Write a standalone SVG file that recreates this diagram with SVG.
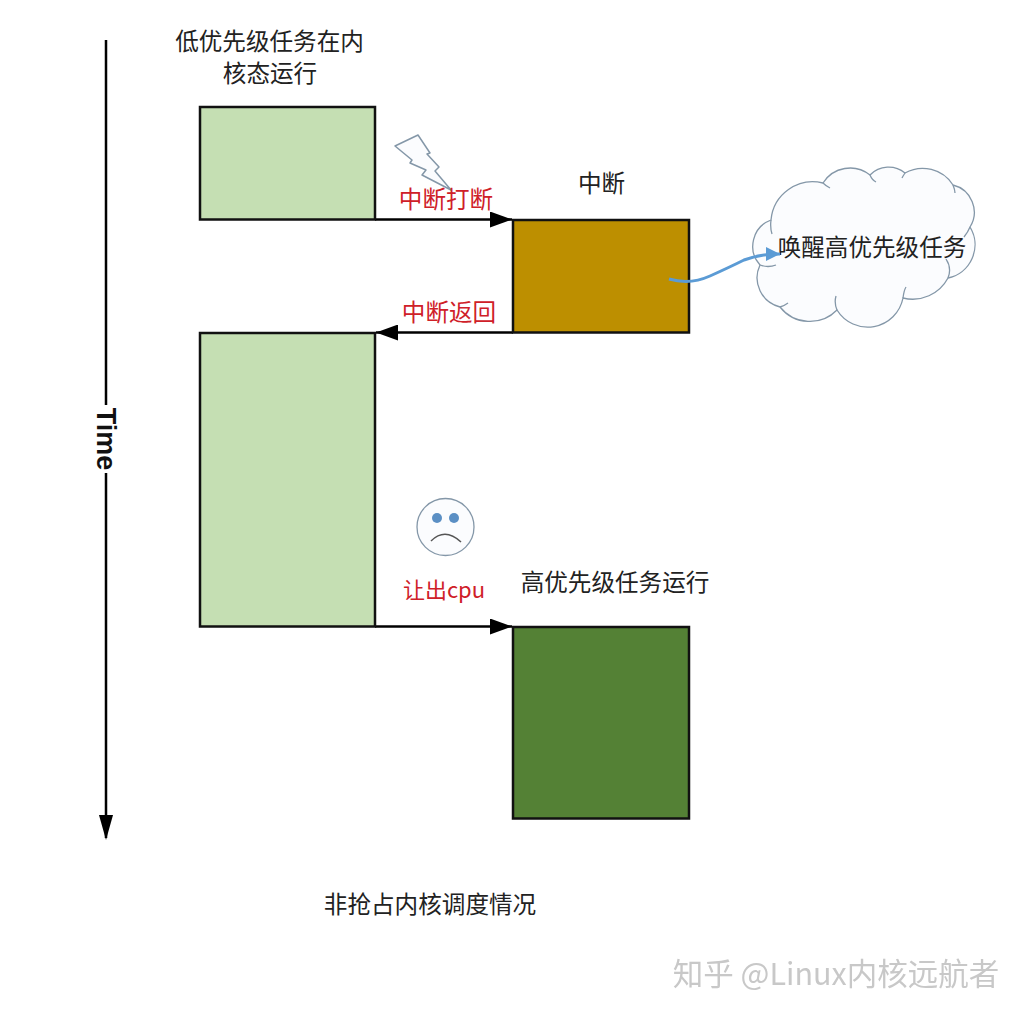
<svg xmlns="http://www.w3.org/2000/svg" width="1024" height="1015" viewBox="0 0 1024 1015">
<style>
text{font-family:"Noto Sans CJK SC","Liberation Sans",sans-serif;fill:#222;font-size:23.600px;text-anchor:middle}
.red{fill:#cf2028}
.box{stroke:#111;stroke-width:2.500}
.light{fill:#c5dfb3}
.conn{stroke:#000;stroke-width:2.500;fill:none}
.sk{fill:#fbfcfe;stroke:#8497a8;stroke-width:1.300}
.curl{fill:none;stroke:#8497a8;stroke-width:1.300}
</style>
<defs>
<marker id="ah" markerUnits="userSpaceOnUse" markerWidth="24" markerHeight="16" refX="22" refY="8" orient="auto"><path d="M0 0L22 8L0 16Z" fill="#000"/></marker>
<marker id="bh" markerUnits="userSpaceOnUse" markerWidth="16" markerHeight="16" refX="14" refY="7" orient="auto"><path d="M0 0L14 7L0 14Z" fill="#5b9bd5"/></marker>
<filter id="soft"><feGaussianBlur stdDeviation="0.600"/></filter>
</defs>
<rect width="1024" height="1015" fill="#fff"/>
<g id="connectors">
<path class="conn" d="M106 40V405M106 473V838"/>
<path d="M99 815L106 840L113 815Z" fill="#000"/>
<path class="conn" marker-end="url(#ah)" d="M375 219.500H512"/>
<path class="conn" marker-end="url(#ah)" d="M513 332.500H376"/>
<path class="conn" marker-end="url(#ah)" d="M375 626.500H512"/>
</g>
<g id="time"><text transform="translate(106 439) rotate(90)" dy="9" style="font-family:'Liberation Sans',sans-serif;font-weight:700;font-size:27px;fill:#111">Time</text></g>
<g id="task-low-1"><rect class="box light" x="200" y="107" width="175" height="112.500"/><text x="269.500" y="50">低优先级任务在内</text><text x="270" y="82">核态运行</text></g>
<g id="bolt"><path d="M395 146L418 135L430 153L427 154L439 167L435 171L451 190L422 175L426 170L410 163L412 160Z" fill="#fbfcfe" stroke="#8497a8" stroke-width="1.500" stroke-linejoin="round"/></g>
<g id="interrupt-label"><text class="red" x="446" y="208">中断打断</text></g>
<g id="interrupt"><rect class="box" fill="#bd8f00" x="513" y="220" width="176" height="112.500"/><text x="601.500" y="192">中断</text></g>
<g id="return-label"><text class="red" x="449" y="321">中断返回</text></g>
<g id="cloud">
<path class="sk" d="M760 265A28 28 0 0 1 771 220A42 42 0 0 1 823 183A32 32 0 0 1 870 175A26 26 0 0 1 905 173A36 36 0 0 1 953 185A28 28 0 0 1 970 227A34 34 0 0 1 948 278A40 40 0 0 1 903 298A36 36 0 0 1 837 310A38 38 0 0 1 780 307A30 30 0 0 1 760 265Z"/>
<path class="curl" d="M948 278Q952 268 946 259M760 265Q768 268 776 265M771 220Q770 228 772 234M823 183Q826 186 830 188M870 175Q872 180 876 182M905 173Q903 176 902 178M953 185Q955 190 955 193M970 227Q968 232 964 237M903 298Q904 290 906 287M837 310Q834 303 836 296M780 307Q784 306 788 303"/>
<text x="872" y="256">唤醒高优先级任务</text>
</g>
<path id="wake" d="M669 279Q690 285 710 276T744 260Q760 254 780 254" fill="none" stroke="#5b9bd5" stroke-width="3" marker-end="url(#bh)"/>
<g id="task-low-2"><rect class="box light" x="200" y="333" width="175" height="293.500"/></g>
<g id="sad-face">
<circle class="sk" cx="445.500" cy="527" r="28.500"/>
<circle cx="437" cy="518" r="5" fill="#5b8fc4"/><circle cx="454" cy="518" r="5" fill="#5b8fc4"/>
<path d="M431 541Q445 527 461 542" fill="none" stroke="#555" stroke-width="1.500"/>
</g>
<g id="yield-label"><text class="red" x="444" y="598" style="font-size:22px">让出cpu</text></g>
<g id="task-high"><rect class="box" fill="#548135" x="513" y="627" width="176" height="191.500"/><text x="615" y="591">高优先级任务运行</text></g>
<g id="caption"><text x="430" y="913">非抢占内核调度情况</text></g>
<g id="watermark"><text x="836" y="985" filter="url(#soft)" style="fill:#c8c8c8;font-size:30.500px">知乎 @Linux内核远航者</text></g>
</svg>
